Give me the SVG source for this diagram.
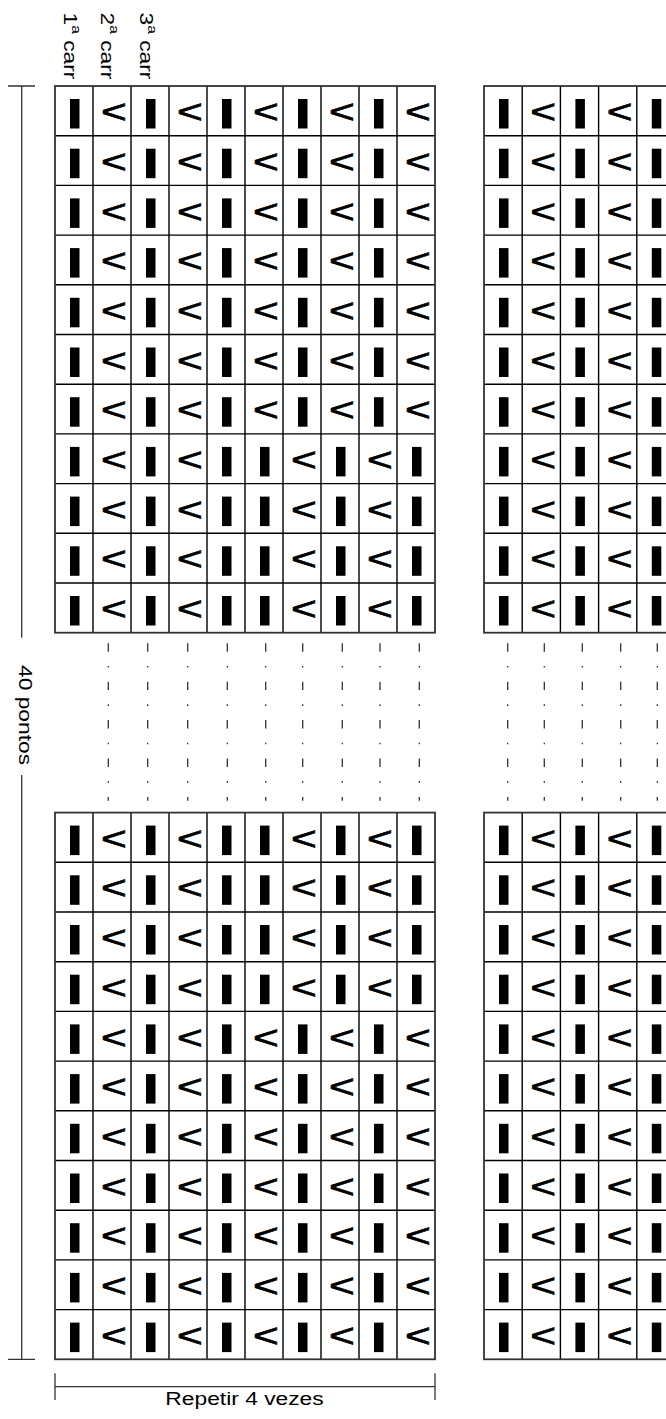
<svg xmlns="http://www.w3.org/2000/svg" width="666" height="1419" viewBox="0 0 666 1419">
<style>
.bg{fill:#fff}
.frame{fill:none;stroke:#333;stroke-width:1.8}
.inner{fill:none;stroke:#000;stroke-width:1.4}
.b{fill:#000}
.c{font-family:"Liberation Sans",Arial,sans-serif;font-size:34px;text-anchor:middle;fill:#000;stroke:#000;stroke-width:0.7}
.lbl{font-family:"Liberation Sans",Arial,sans-serif;font-size:19px;fill:#000}
.dim{fill:none;stroke:#333;stroke-width:1.3}
.dots{fill:none;stroke:#333;stroke-width:1.3;stroke-dasharray:8.4 14.2 1.6 14.2}
</style>
<rect class="bg" x="0" y="0" width="666" height="1419"/>

<g id="labels">
<text class="lbl" transform="translate(63.5 12.5) rotate(90) scale(1.2 1)">1<tspan font-size="13" dy="-9">a</tspan><tspan dy="9"> carr</tspan></text>
<text class="lbl" transform="translate(101 12.5) rotate(90) scale(1.2 1)">2<tspan font-size="13" dy="-9">a</tspan><tspan dy="9"> carr</tspan></text>
<text class="lbl" transform="translate(139.5 12.5) rotate(90) scale(1.2 1)">3<tspan font-size="13" dy="-9">a</tspan><tspan dy="9"> carr</tspan></text>
<text class="lbl" transform="translate(19 665) rotate(90) scale(1.2 1)">40 pontos</text>
<text class="lbl" text-anchor="middle" transform="translate(244.5 1405) scale(1.2 1)">Repetir 4 vezes</text>
</g>

<g id="connectors">
<path class="dim" d="M8 86H35M21.7 86V637.7M21.7 775V1359.3M8 1359.3H35"/>
<path class="dim" d="M55 1373.3V1400M435 1373.3V1400M55 1386.7H435"/>
<path class="dots" d="M108.3 643.3V800.7M147.7 643.3V800.7M187.7 643.3V800.7M227.3 643.3V800.7M265.7 643.3V800.7M302.7 643.3V800.7M342.3 643.3V800.7M380 643.3V800.7M419.3 643.3V800.7"/>
<path class="dots" d="M507.7 643.3V800.7M544.3 643.3V800.7M582.3 643.3V800.7M620.7 643.3V800.7M657.3 643.3V800.7"/>
</g>

<g id="grid-top-left">
<path class="inner" d="M93 86v546.7M131 86v546.7M169 86v546.7M207 86v546.7M245 86v546.7M283 86v546.7M321 86v546.7M359 86v546.7M397 86v546.7M55 135.7H435M55 185.4H435M55 235.1H435M55 284.8H435M55 334.5H435M55 384.2H435M55 433.9H435M55 483.6H435M55 533.3H435M55 583H435"/>
<rect class="frame" x="55" y="86" width="380" height="546.7"/>
<g transform="translate(0 86)"><rect class="b" x="70" y="13" width="9.5" height="29.5"/><text class="c" transform="translate(114 37.1) scale(1.3 1)">&lt;</text><rect class="b" x="146" y="13" width="9.5" height="29.5"/><text class="c" transform="translate(190 37.1) scale(1.3 1)">&lt;</text><rect class="b" x="222" y="13" width="9.5" height="29.5"/><text class="c" transform="translate(266 37.1) scale(1.3 1)">&lt;</text><rect class="b" x="298" y="13" width="9.5" height="29.5"/><text class="c" transform="translate(342 37.1) scale(1.3 1)">&lt;</text><rect class="b" x="374" y="13" width="9.5" height="29.5"/><text class="c" transform="translate(418 37.1) scale(1.3 1)">&lt;</text></g>
<g transform="translate(0 135.7)"><rect class="b" x="70" y="13" width="9.5" height="29.5"/><text class="c" transform="translate(114 37.1) scale(1.3 1)">&lt;</text><rect class="b" x="146" y="13" width="9.5" height="29.5"/><text class="c" transform="translate(190 37.1) scale(1.3 1)">&lt;</text><rect class="b" x="222" y="13" width="9.5" height="29.5"/><text class="c" transform="translate(266 37.1) scale(1.3 1)">&lt;</text><rect class="b" x="298" y="13" width="9.5" height="29.5"/><text class="c" transform="translate(342 37.1) scale(1.3 1)">&lt;</text><rect class="b" x="374" y="13" width="9.5" height="29.5"/><text class="c" transform="translate(418 37.1) scale(1.3 1)">&lt;</text></g>
<g transform="translate(0 185.4)"><rect class="b" x="70" y="13" width="9.5" height="29.5"/><text class="c" transform="translate(114 37.1) scale(1.3 1)">&lt;</text><rect class="b" x="146" y="13" width="9.5" height="29.5"/><text class="c" transform="translate(190 37.1) scale(1.3 1)">&lt;</text><rect class="b" x="222" y="13" width="9.5" height="29.5"/><text class="c" transform="translate(266 37.1) scale(1.3 1)">&lt;</text><rect class="b" x="298" y="13" width="9.5" height="29.5"/><text class="c" transform="translate(342 37.1) scale(1.3 1)">&lt;</text><rect class="b" x="374" y="13" width="9.5" height="29.5"/><text class="c" transform="translate(418 37.1) scale(1.3 1)">&lt;</text></g>
<g transform="translate(0 235.1)"><rect class="b" x="70" y="13" width="9.5" height="29.5"/><text class="c" transform="translate(114 37.1) scale(1.3 1)">&lt;</text><rect class="b" x="146" y="13" width="9.5" height="29.5"/><text class="c" transform="translate(190 37.1) scale(1.3 1)">&lt;</text><rect class="b" x="222" y="13" width="9.5" height="29.5"/><text class="c" transform="translate(266 37.1) scale(1.3 1)">&lt;</text><rect class="b" x="298" y="13" width="9.5" height="29.5"/><text class="c" transform="translate(342 37.1) scale(1.3 1)">&lt;</text><rect class="b" x="374" y="13" width="9.5" height="29.5"/><text class="c" transform="translate(418 37.1) scale(1.3 1)">&lt;</text></g>
<g transform="translate(0 284.8)"><rect class="b" x="70" y="13" width="9.5" height="29.5"/><text class="c" transform="translate(114 37.1) scale(1.3 1)">&lt;</text><rect class="b" x="146" y="13" width="9.5" height="29.5"/><text class="c" transform="translate(190 37.1) scale(1.3 1)">&lt;</text><rect class="b" x="222" y="13" width="9.5" height="29.5"/><text class="c" transform="translate(266 37.1) scale(1.3 1)">&lt;</text><rect class="b" x="298" y="13" width="9.5" height="29.5"/><text class="c" transform="translate(342 37.1) scale(1.3 1)">&lt;</text><rect class="b" x="374" y="13" width="9.5" height="29.5"/><text class="c" transform="translate(418 37.1) scale(1.3 1)">&lt;</text></g>
<g transform="translate(0 334.5)"><rect class="b" x="70" y="13" width="9.5" height="29.5"/><text class="c" transform="translate(114 37.1) scale(1.3 1)">&lt;</text><rect class="b" x="146" y="13" width="9.5" height="29.5"/><text class="c" transform="translate(190 37.1) scale(1.3 1)">&lt;</text><rect class="b" x="222" y="13" width="9.5" height="29.5"/><text class="c" transform="translate(266 37.1) scale(1.3 1)">&lt;</text><rect class="b" x="298" y="13" width="9.5" height="29.5"/><text class="c" transform="translate(342 37.1) scale(1.3 1)">&lt;</text><rect class="b" x="374" y="13" width="9.5" height="29.5"/><text class="c" transform="translate(418 37.1) scale(1.3 1)">&lt;</text></g>
<g transform="translate(0 384.2)"><rect class="b" x="70" y="13" width="9.5" height="29.5"/><text class="c" transform="translate(114 37.1) scale(1.3 1)">&lt;</text><rect class="b" x="146" y="13" width="9.5" height="29.5"/><text class="c" transform="translate(190 37.1) scale(1.3 1)">&lt;</text><rect class="b" x="222" y="13" width="9.5" height="29.5"/><text class="c" transform="translate(266 37.1) scale(1.3 1)">&lt;</text><rect class="b" x="298" y="13" width="9.5" height="29.5"/><text class="c" transform="translate(342 37.1) scale(1.3 1)">&lt;</text><rect class="b" x="374" y="13" width="9.5" height="29.5"/><text class="c" transform="translate(418 37.1) scale(1.3 1)">&lt;</text></g>
<g transform="translate(0 433.9)"><rect class="b" x="70" y="13" width="9.5" height="29.5"/><text class="c" transform="translate(114 37.1) scale(1.3 1)">&lt;</text><rect class="b" x="146" y="13" width="9.5" height="29.5"/><text class="c" transform="translate(190 37.1) scale(1.3 1)">&lt;</text><rect class="b" x="222" y="13" width="9.5" height="29.5"/><rect class="b" x="260" y="13" width="9.5" height="29.5"/><text class="c" transform="translate(304 37.1) scale(1.3 1)">&lt;</text><rect class="b" x="336" y="13" width="9.5" height="29.5"/><text class="c" transform="translate(380 37.1) scale(1.3 1)">&lt;</text><rect class="b" x="412" y="13" width="9.5" height="29.5"/></g>
<g transform="translate(0 483.6)"><rect class="b" x="70" y="13" width="9.5" height="29.5"/><text class="c" transform="translate(114 37.1) scale(1.3 1)">&lt;</text><rect class="b" x="146" y="13" width="9.5" height="29.5"/><text class="c" transform="translate(190 37.1) scale(1.3 1)">&lt;</text><rect class="b" x="222" y="13" width="9.5" height="29.5"/><rect class="b" x="260" y="13" width="9.5" height="29.5"/><text class="c" transform="translate(304 37.1) scale(1.3 1)">&lt;</text><rect class="b" x="336" y="13" width="9.5" height="29.5"/><text class="c" transform="translate(380 37.1) scale(1.3 1)">&lt;</text><rect class="b" x="412" y="13" width="9.5" height="29.5"/></g>
<g transform="translate(0 533.3)"><rect class="b" x="70" y="13" width="9.5" height="29.5"/><text class="c" transform="translate(114 37.1) scale(1.3 1)">&lt;</text><rect class="b" x="146" y="13" width="9.5" height="29.5"/><text class="c" transform="translate(190 37.1) scale(1.3 1)">&lt;</text><rect class="b" x="222" y="13" width="9.5" height="29.5"/><rect class="b" x="260" y="13" width="9.5" height="29.5"/><text class="c" transform="translate(304 37.1) scale(1.3 1)">&lt;</text><rect class="b" x="336" y="13" width="9.5" height="29.5"/><text class="c" transform="translate(380 37.1) scale(1.3 1)">&lt;</text><rect class="b" x="412" y="13" width="9.5" height="29.5"/></g>
<g transform="translate(0 583)"><rect class="b" x="70" y="13" width="9.5" height="29.5"/><text class="c" transform="translate(114 37.1) scale(1.3 1)">&lt;</text><rect class="b" x="146" y="13" width="9.5" height="29.5"/><text class="c" transform="translate(190 37.1) scale(1.3 1)">&lt;</text><rect class="b" x="222" y="13" width="9.5" height="29.5"/><rect class="b" x="260" y="13" width="9.5" height="29.5"/><text class="c" transform="translate(304 37.1) scale(1.3 1)">&lt;</text><rect class="b" x="336" y="13" width="9.5" height="29.5"/><text class="c" transform="translate(380 37.1) scale(1.3 1)">&lt;</text><rect class="b" x="412" y="13" width="9.5" height="29.5"/></g>
</g>

<g id="grid-bottom-left">
<path class="inner" d="M93 812.6v546.7M131 812.6v546.7M169 812.6v546.7M207 812.6v546.7M245 812.6v546.7M283 812.6v546.7M321 812.6v546.7M359 812.6v546.7M397 812.6v546.7M55 862.3H435M55 912H435M55 961.7H435M55 1011.4H435M55 1061.1H435M55 1110.8H435M55 1160.5H435M55 1210.2H435M55 1259.9H435M55 1309.6H435"/>
<rect class="frame" x="55" y="812.6" width="380" height="546.7"/>
<g transform="translate(0 812.6)"><rect class="b" x="70" y="13" width="9.5" height="29.5"/><text class="c" transform="translate(114 37.1) scale(1.3 1)">&lt;</text><rect class="b" x="146" y="13" width="9.5" height="29.5"/><text class="c" transform="translate(190 37.1) scale(1.3 1)">&lt;</text><rect class="b" x="222" y="13" width="9.5" height="29.5"/><rect class="b" x="260" y="13" width="9.5" height="29.5"/><text class="c" transform="translate(304 37.1) scale(1.3 1)">&lt;</text><rect class="b" x="336" y="13" width="9.5" height="29.5"/><text class="c" transform="translate(380 37.1) scale(1.3 1)">&lt;</text><rect class="b" x="412" y="13" width="9.5" height="29.5"/></g>
<g transform="translate(0 862.3)"><rect class="b" x="70" y="13" width="9.5" height="29.5"/><text class="c" transform="translate(114 37.1) scale(1.3 1)">&lt;</text><rect class="b" x="146" y="13" width="9.5" height="29.5"/><text class="c" transform="translate(190 37.1) scale(1.3 1)">&lt;</text><rect class="b" x="222" y="13" width="9.5" height="29.5"/><rect class="b" x="260" y="13" width="9.5" height="29.5"/><text class="c" transform="translate(304 37.1) scale(1.3 1)">&lt;</text><rect class="b" x="336" y="13" width="9.5" height="29.5"/><text class="c" transform="translate(380 37.1) scale(1.3 1)">&lt;</text><rect class="b" x="412" y="13" width="9.5" height="29.5"/></g>
<g transform="translate(0 912)"><rect class="b" x="70" y="13" width="9.5" height="29.5"/><text class="c" transform="translate(114 37.1) scale(1.3 1)">&lt;</text><rect class="b" x="146" y="13" width="9.5" height="29.5"/><text class="c" transform="translate(190 37.1) scale(1.3 1)">&lt;</text><rect class="b" x="222" y="13" width="9.5" height="29.5"/><rect class="b" x="260" y="13" width="9.5" height="29.5"/><text class="c" transform="translate(304 37.1) scale(1.3 1)">&lt;</text><rect class="b" x="336" y="13" width="9.5" height="29.5"/><text class="c" transform="translate(380 37.1) scale(1.3 1)">&lt;</text><rect class="b" x="412" y="13" width="9.5" height="29.5"/></g>
<g transform="translate(0 961.7)"><rect class="b" x="70" y="13" width="9.5" height="29.5"/><text class="c" transform="translate(114 37.1) scale(1.3 1)">&lt;</text><rect class="b" x="146" y="13" width="9.5" height="29.5"/><text class="c" transform="translate(190 37.1) scale(1.3 1)">&lt;</text><rect class="b" x="222" y="13" width="9.5" height="29.5"/><rect class="b" x="260" y="13" width="9.5" height="29.5"/><text class="c" transform="translate(304 37.1) scale(1.3 1)">&lt;</text><rect class="b" x="336" y="13" width="9.5" height="29.5"/><text class="c" transform="translate(380 37.1) scale(1.3 1)">&lt;</text><rect class="b" x="412" y="13" width="9.5" height="29.5"/></g>
<g transform="translate(0 1011.4)"><rect class="b" x="70" y="13" width="9.5" height="29.5"/><text class="c" transform="translate(114 37.1) scale(1.3 1)">&lt;</text><rect class="b" x="146" y="13" width="9.5" height="29.5"/><text class="c" transform="translate(190 37.1) scale(1.3 1)">&lt;</text><rect class="b" x="222" y="13" width="9.5" height="29.5"/><text class="c" transform="translate(266 37.1) scale(1.3 1)">&lt;</text><rect class="b" x="298" y="13" width="9.5" height="29.5"/><text class="c" transform="translate(342 37.1) scale(1.3 1)">&lt;</text><rect class="b" x="374" y="13" width="9.5" height="29.5"/><text class="c" transform="translate(418 37.1) scale(1.3 1)">&lt;</text></g>
<g transform="translate(0 1061.1)"><rect class="b" x="70" y="13" width="9.5" height="29.5"/><text class="c" transform="translate(114 37.1) scale(1.3 1)">&lt;</text><rect class="b" x="146" y="13" width="9.5" height="29.5"/><text class="c" transform="translate(190 37.1) scale(1.3 1)">&lt;</text><rect class="b" x="222" y="13" width="9.5" height="29.5"/><text class="c" transform="translate(266 37.1) scale(1.3 1)">&lt;</text><rect class="b" x="298" y="13" width="9.5" height="29.5"/><text class="c" transform="translate(342 37.1) scale(1.3 1)">&lt;</text><rect class="b" x="374" y="13" width="9.5" height="29.5"/><text class="c" transform="translate(418 37.1) scale(1.3 1)">&lt;</text></g>
<g transform="translate(0 1110.8)"><rect class="b" x="70" y="13" width="9.5" height="29.5"/><text class="c" transform="translate(114 37.1) scale(1.3 1)">&lt;</text><rect class="b" x="146" y="13" width="9.5" height="29.5"/><text class="c" transform="translate(190 37.1) scale(1.3 1)">&lt;</text><rect class="b" x="222" y="13" width="9.5" height="29.5"/><text class="c" transform="translate(266 37.1) scale(1.3 1)">&lt;</text><rect class="b" x="298" y="13" width="9.5" height="29.5"/><text class="c" transform="translate(342 37.1) scale(1.3 1)">&lt;</text><rect class="b" x="374" y="13" width="9.5" height="29.5"/><text class="c" transform="translate(418 37.1) scale(1.3 1)">&lt;</text></g>
<g transform="translate(0 1160.5)"><rect class="b" x="70" y="13" width="9.5" height="29.5"/><text class="c" transform="translate(114 37.1) scale(1.3 1)">&lt;</text><rect class="b" x="146" y="13" width="9.5" height="29.5"/><text class="c" transform="translate(190 37.1) scale(1.3 1)">&lt;</text><rect class="b" x="222" y="13" width="9.5" height="29.5"/><text class="c" transform="translate(266 37.1) scale(1.3 1)">&lt;</text><rect class="b" x="298" y="13" width="9.5" height="29.5"/><text class="c" transform="translate(342 37.1) scale(1.3 1)">&lt;</text><rect class="b" x="374" y="13" width="9.5" height="29.5"/><text class="c" transform="translate(418 37.1) scale(1.3 1)">&lt;</text></g>
<g transform="translate(0 1210.2)"><rect class="b" x="70" y="13" width="9.5" height="29.5"/><text class="c" transform="translate(114 37.1) scale(1.3 1)">&lt;</text><rect class="b" x="146" y="13" width="9.5" height="29.5"/><text class="c" transform="translate(190 37.1) scale(1.3 1)">&lt;</text><rect class="b" x="222" y="13" width="9.5" height="29.5"/><text class="c" transform="translate(266 37.1) scale(1.3 1)">&lt;</text><rect class="b" x="298" y="13" width="9.5" height="29.5"/><text class="c" transform="translate(342 37.1) scale(1.3 1)">&lt;</text><rect class="b" x="374" y="13" width="9.5" height="29.5"/><text class="c" transform="translate(418 37.1) scale(1.3 1)">&lt;</text></g>
<g transform="translate(0 1259.9)"><rect class="b" x="70" y="13" width="9.5" height="29.5"/><text class="c" transform="translate(114 37.1) scale(1.3 1)">&lt;</text><rect class="b" x="146" y="13" width="9.5" height="29.5"/><text class="c" transform="translate(190 37.1) scale(1.3 1)">&lt;</text><rect class="b" x="222" y="13" width="9.5" height="29.5"/><text class="c" transform="translate(266 37.1) scale(1.3 1)">&lt;</text><rect class="b" x="298" y="13" width="9.5" height="29.5"/><text class="c" transform="translate(342 37.1) scale(1.3 1)">&lt;</text><rect class="b" x="374" y="13" width="9.5" height="29.5"/><text class="c" transform="translate(418 37.1) scale(1.3 1)">&lt;</text></g>
<g transform="translate(0 1309.6)"><rect class="b" x="70" y="13" width="9.5" height="29.5"/><text class="c" transform="translate(114 37.1) scale(1.3 1)">&lt;</text><rect class="b" x="146" y="13" width="9.5" height="29.5"/><text class="c" transform="translate(190 37.1) scale(1.3 1)">&lt;</text><rect class="b" x="222" y="13" width="9.5" height="29.5"/><text class="c" transform="translate(266 37.1) scale(1.3 1)">&lt;</text><rect class="b" x="298" y="13" width="9.5" height="29.5"/><text class="c" transform="translate(342 37.1) scale(1.3 1)">&lt;</text><rect class="b" x="374" y="13" width="9.5" height="29.5"/><text class="c" transform="translate(418 37.1) scale(1.3 1)">&lt;</text></g>
</g>

<g id="grid-top-right">
<path class="inner" d="M522.2 86v546.7M560.4 86v546.7M598.6 86v546.7M636.8 86v546.7M484 135.7H690M484 185.4H690M484 235.1H690M484 284.8H690M484 334.5H690M484 384.2H690M484 433.9H690M484 483.6H690M484 533.3H690M484 583H690"/>
<rect class="frame" x="484" y="86" width="206" height="546.7"/>
<g transform="translate(0 86)"><rect class="b" x="499" y="13" width="9.5" height="29.5"/><text class="c" transform="translate(543.2 37.1) scale(1.3 1)">&lt;</text><rect class="b" x="575.4" y="13" width="9.5" height="29.5"/><text class="c" transform="translate(619.6 37.1) scale(1.3 1)">&lt;</text><rect class="b" x="651.8" y="13" width="9.5" height="29.5"/></g>
<g transform="translate(0 135.7)"><rect class="b" x="499" y="13" width="9.5" height="29.5"/><text class="c" transform="translate(543.2 37.1) scale(1.3 1)">&lt;</text><rect class="b" x="575.4" y="13" width="9.5" height="29.5"/><text class="c" transform="translate(619.6 37.1) scale(1.3 1)">&lt;</text><rect class="b" x="651.8" y="13" width="9.5" height="29.5"/></g>
<g transform="translate(0 185.4)"><rect class="b" x="499" y="13" width="9.5" height="29.5"/><text class="c" transform="translate(543.2 37.1) scale(1.3 1)">&lt;</text><rect class="b" x="575.4" y="13" width="9.5" height="29.5"/><text class="c" transform="translate(619.6 37.1) scale(1.3 1)">&lt;</text><rect class="b" x="651.8" y="13" width="9.5" height="29.5"/></g>
<g transform="translate(0 235.1)"><rect class="b" x="499" y="13" width="9.5" height="29.5"/><text class="c" transform="translate(543.2 37.1) scale(1.3 1)">&lt;</text><rect class="b" x="575.4" y="13" width="9.5" height="29.5"/><text class="c" transform="translate(619.6 37.1) scale(1.3 1)">&lt;</text><rect class="b" x="651.8" y="13" width="9.5" height="29.5"/></g>
<g transform="translate(0 284.8)"><rect class="b" x="499" y="13" width="9.5" height="29.5"/><text class="c" transform="translate(543.2 37.1) scale(1.3 1)">&lt;</text><rect class="b" x="575.4" y="13" width="9.5" height="29.5"/><text class="c" transform="translate(619.6 37.1) scale(1.3 1)">&lt;</text><rect class="b" x="651.8" y="13" width="9.5" height="29.5"/></g>
<g transform="translate(0 334.5)"><rect class="b" x="499" y="13" width="9.5" height="29.5"/><text class="c" transform="translate(543.2 37.1) scale(1.3 1)">&lt;</text><rect class="b" x="575.4" y="13" width="9.5" height="29.5"/><text class="c" transform="translate(619.6 37.1) scale(1.3 1)">&lt;</text><rect class="b" x="651.8" y="13" width="9.5" height="29.5"/></g>
<g transform="translate(0 384.2)"><rect class="b" x="499" y="13" width="9.5" height="29.5"/><text class="c" transform="translate(543.2 37.1) scale(1.3 1)">&lt;</text><rect class="b" x="575.4" y="13" width="9.5" height="29.5"/><text class="c" transform="translate(619.6 37.1) scale(1.3 1)">&lt;</text><rect class="b" x="651.8" y="13" width="9.5" height="29.5"/></g>
<g transform="translate(0 433.9)"><rect class="b" x="499" y="13" width="9.5" height="29.5"/><text class="c" transform="translate(543.2 37.1) scale(1.3 1)">&lt;</text><rect class="b" x="575.4" y="13" width="9.5" height="29.5"/><text class="c" transform="translate(619.6 37.1) scale(1.3 1)">&lt;</text><rect class="b" x="651.8" y="13" width="9.5" height="29.5"/></g>
<g transform="translate(0 483.6)"><rect class="b" x="499" y="13" width="9.5" height="29.5"/><text class="c" transform="translate(543.2 37.1) scale(1.3 1)">&lt;</text><rect class="b" x="575.4" y="13" width="9.5" height="29.5"/><text class="c" transform="translate(619.6 37.1) scale(1.3 1)">&lt;</text><rect class="b" x="651.8" y="13" width="9.5" height="29.5"/></g>
<g transform="translate(0 533.3)"><rect class="b" x="499" y="13" width="9.5" height="29.5"/><text class="c" transform="translate(543.2 37.1) scale(1.3 1)">&lt;</text><rect class="b" x="575.4" y="13" width="9.5" height="29.5"/><text class="c" transform="translate(619.6 37.1) scale(1.3 1)">&lt;</text><rect class="b" x="651.8" y="13" width="9.5" height="29.5"/></g>
<g transform="translate(0 583)"><rect class="b" x="499" y="13" width="9.5" height="29.5"/><text class="c" transform="translate(543.2 37.1) scale(1.3 1)">&lt;</text><rect class="b" x="575.4" y="13" width="9.5" height="29.5"/><text class="c" transform="translate(619.6 37.1) scale(1.3 1)">&lt;</text><rect class="b" x="651.8" y="13" width="9.5" height="29.5"/></g>
</g>

<g id="grid-bottom-right">
<path class="inner" d="M522.2 812.6v546.7M560.4 812.6v546.7M598.6 812.6v546.7M636.8 812.6v546.7M484 862.3H690M484 912H690M484 961.7H690M484 1011.4H690M484 1061.1H690M484 1110.8H690M484 1160.5H690M484 1210.2H690M484 1259.9H690M484 1309.6H690"/>
<rect class="frame" x="484" y="812.6" width="206" height="546.7"/>
<g transform="translate(0 812.6)"><rect class="b" x="499" y="13" width="9.5" height="29.5"/><text class="c" transform="translate(543.2 37.1) scale(1.3 1)">&lt;</text><rect class="b" x="575.4" y="13" width="9.5" height="29.5"/><text class="c" transform="translate(619.6 37.1) scale(1.3 1)">&lt;</text><rect class="b" x="651.8" y="13" width="9.5" height="29.5"/></g>
<g transform="translate(0 862.3)"><rect class="b" x="499" y="13" width="9.5" height="29.5"/><text class="c" transform="translate(543.2 37.1) scale(1.3 1)">&lt;</text><rect class="b" x="575.4" y="13" width="9.5" height="29.5"/><text class="c" transform="translate(619.6 37.1) scale(1.3 1)">&lt;</text><rect class="b" x="651.8" y="13" width="9.5" height="29.5"/></g>
<g transform="translate(0 912)"><rect class="b" x="499" y="13" width="9.5" height="29.5"/><text class="c" transform="translate(543.2 37.1) scale(1.3 1)">&lt;</text><rect class="b" x="575.4" y="13" width="9.5" height="29.5"/><text class="c" transform="translate(619.6 37.1) scale(1.3 1)">&lt;</text><rect class="b" x="651.8" y="13" width="9.5" height="29.5"/></g>
<g transform="translate(0 961.7)"><rect class="b" x="499" y="13" width="9.5" height="29.5"/><text class="c" transform="translate(543.2 37.1) scale(1.3 1)">&lt;</text><rect class="b" x="575.4" y="13" width="9.5" height="29.5"/><text class="c" transform="translate(619.6 37.1) scale(1.3 1)">&lt;</text><rect class="b" x="651.8" y="13" width="9.5" height="29.5"/></g>
<g transform="translate(0 1011.4)"><rect class="b" x="499" y="13" width="9.5" height="29.5"/><text class="c" transform="translate(543.2 37.1) scale(1.3 1)">&lt;</text><rect class="b" x="575.4" y="13" width="9.5" height="29.5"/><text class="c" transform="translate(619.6 37.1) scale(1.3 1)">&lt;</text><rect class="b" x="651.8" y="13" width="9.5" height="29.5"/></g>
<g transform="translate(0 1061.1)"><rect class="b" x="499" y="13" width="9.5" height="29.5"/><text class="c" transform="translate(543.2 37.1) scale(1.3 1)">&lt;</text><rect class="b" x="575.4" y="13" width="9.5" height="29.5"/><text class="c" transform="translate(619.6 37.1) scale(1.3 1)">&lt;</text><rect class="b" x="651.8" y="13" width="9.5" height="29.5"/></g>
<g transform="translate(0 1110.8)"><rect class="b" x="499" y="13" width="9.5" height="29.5"/><text class="c" transform="translate(543.2 37.1) scale(1.3 1)">&lt;</text><rect class="b" x="575.4" y="13" width="9.5" height="29.5"/><text class="c" transform="translate(619.6 37.1) scale(1.3 1)">&lt;</text><rect class="b" x="651.8" y="13" width="9.5" height="29.5"/></g>
<g transform="translate(0 1160.5)"><rect class="b" x="499" y="13" width="9.5" height="29.5"/><text class="c" transform="translate(543.2 37.1) scale(1.3 1)">&lt;</text><rect class="b" x="575.4" y="13" width="9.5" height="29.5"/><text class="c" transform="translate(619.6 37.1) scale(1.3 1)">&lt;</text><rect class="b" x="651.8" y="13" width="9.5" height="29.5"/></g>
<g transform="translate(0 1210.2)"><rect class="b" x="499" y="13" width="9.5" height="29.5"/><text class="c" transform="translate(543.2 37.1) scale(1.3 1)">&lt;</text><rect class="b" x="575.4" y="13" width="9.5" height="29.5"/><text class="c" transform="translate(619.6 37.1) scale(1.3 1)">&lt;</text><rect class="b" x="651.8" y="13" width="9.5" height="29.5"/></g>
<g transform="translate(0 1259.9)"><rect class="b" x="499" y="13" width="9.5" height="29.5"/><text class="c" transform="translate(543.2 37.1) scale(1.3 1)">&lt;</text><rect class="b" x="575.4" y="13" width="9.5" height="29.5"/><text class="c" transform="translate(619.6 37.1) scale(1.3 1)">&lt;</text><rect class="b" x="651.8" y="13" width="9.5" height="29.5"/></g>
<g transform="translate(0 1309.6)"><rect class="b" x="499" y="13" width="9.5" height="29.5"/><text class="c" transform="translate(543.2 37.1) scale(1.3 1)">&lt;</text><rect class="b" x="575.4" y="13" width="9.5" height="29.5"/><text class="c" transform="translate(619.6 37.1) scale(1.3 1)">&lt;</text><rect class="b" x="651.8" y="13" width="9.5" height="29.5"/></g>
</g>
</svg>
